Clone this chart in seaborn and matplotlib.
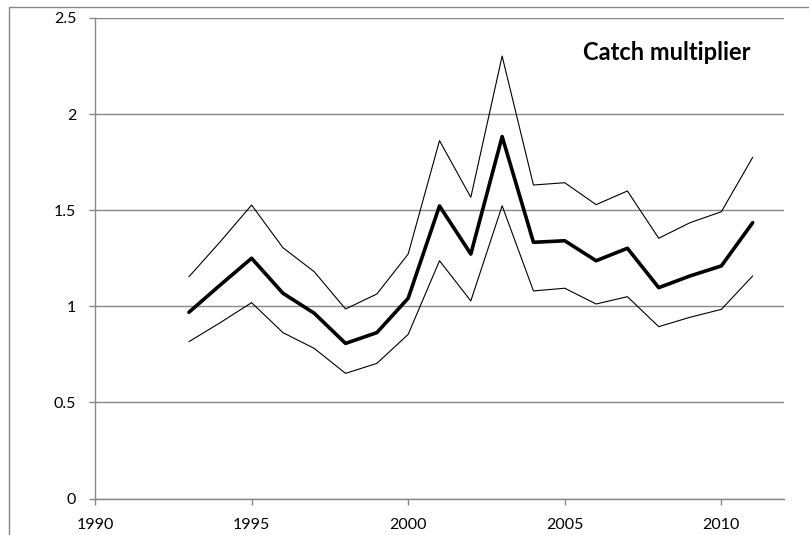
import matplotlib
matplotlib.use("Agg")
import matplotlib.pyplot as plt
from matplotlib.patches import Rectangle
import pandas as pd
import seaborn as sns

years = list(range(1993, 2012))
estimate = [0.969, 1.111, 1.250, 1.068, 0.964, 0.807, 0.863, 1.042, 1.522, 1.272,
            1.883, 1.333, 1.341, 1.237, 1.302, 1.097, 1.158, 1.210, 1.435]
upper = [1.154, 1.336, 1.527, 1.305, 1.180, 0.986, 1.064, 1.272, 1.862, 1.567,
         2.302, 1.631, 1.643, 1.529, 1.600, 1.354, 1.435, 1.492, 1.775]
lower = [0.816, 0.915, 1.019, 0.863, 0.781, 0.651, 0.703, 0.854, 1.237, 1.028,
         1.523, 1.080, 1.094, 1.012, 1.050, 0.894, 0.943, 0.984, 1.158]
x_ticks = [1990, 1995, 2000, 2005, 2010]
y_ticks = [0, 0.5, 1, 1.5, 2, 2.5]
y_tick_labels = ["0", "0.5", "1", "1.5", "2", "2.5"]
title = "Catch multiplier"

df = pd.DataFrame({"year": years, "estimate": estimate, "upper": upper, "lower": lower})

sns.set_theme(style="white")
plt.rcParams["font.family"] = ["Lato", "DejaVu Sans"]

W, H = 809, 535
fig = plt.figure(figsize=(W / 100, H / 100), dpi=100)
ax = fig.add_axes([95 / W, 1 - 498.5 / H, (784 - 95) / W, (498.5 - 18) / H])

grey = "#878787"
for y in y_ticks:
    ax.axhline(y, color=grey, lw=1.0, zorder=0)

sns.lineplot(data=df, x="year", y="upper", ax=ax, color="black", lw=0.8)
sns.lineplot(data=df, x="year", y="lower", ax=ax, color="black", lw=0.8)
sns.lineplot(data=df, x="year", y="estimate", ax=ax, color="black", lw=2.6)

ax.set_xlim(1990, 2012)
ax.set_ylim(0, 2.5)
ax.set_xticks(x_ticks)
ax.set_yticks(y_ticks)
ax.set_yticklabels(y_tick_labels)
ax.set_xlabel("")
ax.set_ylabel("")

for side in ["top", "right"]:
    ax.spines[side].set_visible(False)
for side in ["left", "bottom"]:
    ax.spines[side].set_color(grey)
    ax.spines[side].set_linewidth(1.0)
    ax.spines[side].set_zorder(0.5)

ax.tick_params(axis="both", which="major", direction="out", length=4.5, width=1.0,
               color=grey, labelsize=11.5, labelcolor="black", bottom=True, left=True)
ax.tick_params(axis="y", pad=9)
ax.tick_params(axis="x", pad=9.5)

ax.text(0.830, 0.928, title, transform=ax.transAxes, ha="center", va="center",
        fontsize=17, fontweight="bold", color="black")

# chart-area border running off the right and bottom edges
fig.add_artist(Rectangle((9 / W, -0.05), 1.2, 1 - 7 / H + 0.05, transform=fig.transFigure,
                         fill=False, edgecolor=grey, lw=1.0))

fig.savefig("out.png", dpi=100)
